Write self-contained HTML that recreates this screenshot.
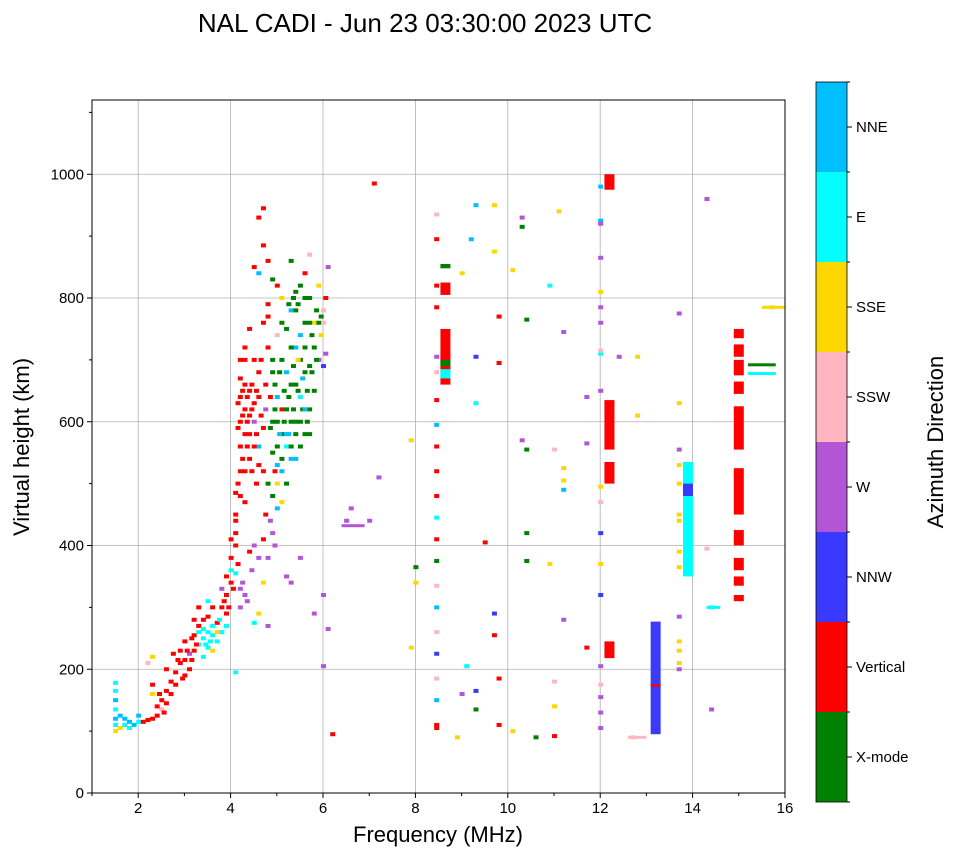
<!DOCTYPE html>
<html><head><meta charset="utf-8"><style>
body{margin:0;background:#fff;font-family:"Liberation Sans","DejaVu Sans",sans-serif}
svg text{font-family:"Liberation Sans","DejaVu Sans",sans-serif}
</style></head><body>
<svg id="c" width="958" height="857" viewBox="0 0 958 857" xmlns="http://www.w3.org/2000/svg">
<text x="425" y="32" font-size="26" text-anchor="middle">NAL CADI - Jun 23 03:30:00 2023 UTC</text>
<g id="grid"></g><g id="marks"></g><g id="axes"></g><g id="cbar"></g>
</svg>
<script>
const NS="http://www.w3.org/2000/svg";
const colorNames=["X-mode","Vertical","NNW","W","SSW","SSE","E","NNE"];
const colorVals=["#008000","#ff0000","#3a3aff","#b256d6","#ffb6c1","#ffd700","#00ffff","#00bfff"];
const xTicks=[2,4,6,8,10,12,14,16];
const yTicks=[0,200,400,600,800,1000];
// bars: freq, h0, h1, color index
const bars=[[8.65,660,750,1],[8.65,805,825,1],[8.65,848,855,0],[8.65,690,700,0],[8.65,670,685,6],[8.65,700,708,1],
[12.2,975,1000,1],[12.2,500,535,1],[12.2,555,635,1],[12.2,218,245,1],
[13.2,95,277,2],[13.2,172,176,1],[13.9,350,535,6],[13.9,480,500,2],
[15,310,320,1],[15,335,350,1],[15,360,380,1],[15,400,425,1],[15,450,525,1],[15,555,625,1],[15,645,665,1],[15,675,700,1],[15,705,725,1],[15,735,750,1]];
// points: freq, height, color index
const pts=[[1.5,100,5],[1.5,110,6],[1.5,120,7],[1.5,135,6],[1.5,150,7],[1.5,165,6],[1.5,178,6],[1.6,105,5],[1.6,125,7],[1.7,110,6],[1.7,120,7],[1.8,115,7],[1.8,105,6],[1.9,110,7],[2.0,115,6],[2.0,125,7],[2.1,115,1],[2.2,118,1],[2.3,120,1],[2.4,125,1],[2.5,135,4],[2.5,150,1],[2.3,175,1],[2.3,160,5],[2.6,145,1],[2.6,165,1],[2.7,160,1],[2.7,180,1],[2.8,195,1],[2.9,210,1],[2.9,230,1],[3.0,190,1],[3.0,215,1],[3.0,245,1],[3.1,200,1],[3.1,225,3],[3.2,230,1],[3.2,255,1],[3.3,240,6],[3.3,270,1],[3.4,220,6],[3.4,250,6],[3.5,235,6],[3.5,260,6],[3.5,285,1],[3.6,230,5],[3.6,255,6],[3.7,245,6],[3.7,275,1],[3.8,300,1],[3.8,260,6],[3.9,320,1],[3.9,290,1],[4.0,340,1],[4.0,360,6],[4.0,380,1],[4.1,400,1],[4.1,195,6],[4.2,330,3],[4.2,300,3],[4.3,320,3],[4.1,420,1],[4.1,450,1],[4.1,485,1],[4.2,520,1],[4.2,560,1],[4.2,600,1],[4.2,640,1],[4.2,670,1],[4.3,700,1],[4.3,620,1],[4.4,580,1],[4.4,650,1],[4.5,700,1],[4.5,600,3],[4.6,640,1],[4.6,560,7],[4.7,590,1],[4.7,760,1],[4.8,790,1],[4.6,930,1],[4.7,945,1],[4.6,840,7],[4.7,885,1],[4.8,860,1],[4.8,720,1],[4.9,680,0],[4.9,550,0],[5.0,600,0],[5.0,640,7],[5.1,700,0],[5.1,520,7],[5.2,560,6],[5.2,750,0],[5.3,660,0],[5.3,780,7],[5.4,600,0],[5.4,720,7],[5.5,820,0],[5.5,700,0],[5.5,640,6],[5.6,760,0],[5.6,580,0],[5.7,690,0],[5.7,800,0],[5.8,650,0],[5.8,760,5],[5.9,700,3],[6.0,780,4],[6.0,690,2],[5.3,860,0],[5.0,460,7],[5.0,500,5],[4.9,420,3],[4.8,380,3],[4.7,340,5],[4.6,290,5],[4.5,275,6],[4.8,270,3],[5.2,350,3],[5.3,340,3],[5.5,380,3],[5.8,290,3],[6.0,320,3],[6.1,265,3],[6.0,205,3],[6.2,95,1],[6.5,440,3],[6.6,460,3],[7.0,440,3],[7.1,985,1],[7.2,510,3],[6.1,850,3],[5.1,620,1],[4.95,520,1],[5.4,540,7],
[4.3,580,1],[4.3,660,1],[4.4,610,1],[4.5,630,1],[4.5,560,1],[4.6,680,1],[4.4,540,1],[4.3,470,1],[4.0,410,1],[3.9,350,1],[3.8,330,3],[3.6,300,1],[3.5,310,6],[3.4,280,1],[3.3,300,1],[4.9,600,0],[5.0,560,0],[5.1,580,0],[5.2,620,0],[5.3,600,0],[5.4,660,0],[5.5,600,0],[5.6,680,0],[5.7,620,0],[5.8,720,0],[5.9,760,0],[5.2,680,7],[5.3,720,0],[5.6,720,0],[5.4,780,0],[5.1,760,0],[5.0,740,4],[4.9,700,0],[5.6,800,0],[5.5,740,7],[5.7,760,0],[5.2,500,0],[5.1,470,5],[5.3,540,7],
[4.15,590,1],[4.15,630,1],[4.25,650,1],[4.25,610,1],[4.35,600,1],[4.35,640,1],[4.45,620,1],[4.45,660,1],[4.55,580,1],[4.55,650,1],[4.65,610,1],[4.65,700,1],[4.75,660,1],[4.75,620,3],[4.85,640,1],[4.85,590,0],[4.95,620,0],[4.95,660,0],[5.05,580,7],[5.05,680,0],[5.15,600,0],[5.15,650,0],[5.25,640,0],[5.25,580,7],[5.35,620,0],[5.35,690,0],[5.45,650,0],[5.45,700,5],[5.55,620,0],[5.55,670,7],[5.65,650,0],[5.65,600,0],[5.75,680,0],[5.75,740,0],[5.85,700,0],[5.85,780,0],[5.95,740,5],[5.95,770,0],[6.0,760,4],[6.05,710,3],
[4.1,440,1],[4.15,500,1],[4.2,480,1],[4.25,540,1],[4.3,520,1],[4.35,560,1],[4.45,520,1],[4.55,500,1],[4.6,530,1],[4.7,520,1],[4.8,500,0],[4.9,480,0],[5.0,530,7],[5.1,540,0],[5.2,580,7],[5.3,560,0],[5.4,580,0],[5.5,560,0],[5.6,620,7],[5.7,580,0],
[3.2,280,1],[3.3,260,6],[3.4,265,6],[3.45,240,6],[3.55,245,6],[3.6,270,6],[3.7,260,5],[3.75,280,6],[3.85,310,1],[3.9,270,6],[3.95,300,1],[4.05,330,1],[4.1,355,6],[4.15,370,1],[4.25,340,3],[4.35,310,3],[4.45,360,3],[4.4,390,1],[4.5,400,3],[4.6,380,3],[4.7,410,1],[4.75,450,1],[4.85,440,3],[4.95,400,3],
[2.8,175,1],[2.85,215,1],[2.95,185,1],[3.05,230,1],[3.15,250,1],[3.15,215,1],[3.25,240,1],[2.4,140,1],[2.45,160,1],[2.55,130,1],[2.2,210,4],[2.3,220,5],[2.6,200,1],[2.75,225,1],
[4.5,850,1],[4.9,830,0],[5.4,810,0],[5.6,840,1],[5.7,870,4],[5.1,800,5],[4.8,770,1],[4.4,750,1],[4.3,720,1],[4.2,700,1],[5.0,820,1],[5.25,790,0],[5.35,800,0],[5.45,790,0],[5.9,820,5],[6.05,800,1],
[7.9,570,5],[7.9,235,5],[8.0,340,5],[8.0,365,0],[8.45,935,4],[8.45,895,1],[8.45,820,1],[8.45,785,1],[8.45,705,3],[8.45,680,4],[8.45,635,1],[8.45,595,7],[8.45,560,1],[8.45,520,1],[8.45,480,1],[8.45,445,6],[8.45,410,1],[8.45,375,0],[8.45,335,4],[8.45,300,7],[8.45,260,4],[8.45,225,2],[8.45,185,4],[8.45,150,7],[8.45,110,1],[8.45,105,1],[8.9,90,5],[9.0,840,5],[9.1,205,6],[9.0,160,3],[9.2,895,7],[9.3,950,7],[9.3,705,2],[9.3,630,6],[9.3,135,0],[9.3,165,2],[9.5,405,1],[9.7,950,5],[9.7,875,5],[9.8,770,1],[9.8,695,1],[9.7,290,2],[9.7,255,1],[9.8,185,1],[9.8,110,1],[10.1,845,5],[10.1,100,5],[10.3,930,3],[10.3,915,0],[10.4,765,0],[10.3,570,3],[10.4,555,0],[10.4,420,0],[10.4,375,0],[10.6,90,0],[10.9,820,6],[10.9,370,5],[11.0,555,4],[11.1,940,5],[11.2,745,3],[11.2,525,5],[11.2,505,5],[11.2,490,7],[11.2,280,3],[11.0,180,4],[11.0,140,5],[11.0,92,1],[11.7,640,3],[11.7,235,1],[11.7,565,3],[12.0,980,7],[12.0,925,7],[12.0,920,3],[12.0,865,3],[12.0,810,5],[12.0,785,3],[12.0,760,3],[12.0,710,6],[12.0,715,4],[12.0,650,3],[12.0,470,4],[12.0,495,5],[12.0,420,2],[12.0,370,5],[12.0,320,2],[12.0,205,3],[12.0,175,4],[12.0,155,3],[12.0,130,3],[12.0,105,3],[12.4,705,3],[12.7,90,4],[12.8,705,5],[12.8,610,5],[13.7,775,3],[13.7,630,5],[13.7,555,3],[13.7,530,5],[13.7,500,5],[13.7,450,5],[13.7,440,5],[13.7,390,5],[13.7,365,5],[13.7,285,3],[13.7,245,5],[13.7,230,5],[13.7,210,5],[13.7,200,3],[14.3,960,3],[14.4,300,6],[14.4,135,3],[14.3,395,4],[15.7,785,5]];
// horizontal segments: f0, f1, h, color
const hsegs=[[15.2,15.8,678,6],[15.2,15.8,692,0],[15.5,16,785,5],[12.6,13.0,90,4],[6.4,6.9,432,3],[14.3,14.6,300,6]];

const X0=92,X1=785,Y0=793,Y1=100;
const x=f=>X0+(f-1)*(X1-X0)/15;
const y=h=>Y0-h*(Y0-Y1)/1120;
const svg=document.getElementById('c');
function mk(tag,attrs,parent){const e=document.createElementNS(NS,tag);for(const k in attrs)e.setAttribute(k,attrs[k]);parent.appendChild(e);return e;}
const G=document.getElementById('grid'),M=document.getElementById('marks'),A=document.getElementById('axes'),C=document.getElementById('cbar');
xTicks.forEach(t=>{if(t<16){const l=mk('line',{x1:x(t),x2:x(t),y1:Y1,y2:Y0,stroke:'#b0b0b0','stroke-width':0.8},G);}});
yTicks.forEach(t=>{if(t>0){const l=mk('line',{x1:X0,x2:X1,y1:y(t),y2:y(t),stroke:'#b0b0b0','stroke-width':0.8},G);}});
bars.forEach(b=>{const r=mk('rect',{x:x(b[0])-5,y:y(b[2]),width:10,height:y(b[1])-y(b[2]),fill:colorVals[b[3]]},M);

});
pts.forEach(p=>{const r=mk('rect',{x:x(p[0])-2,y:y(p[1])-2,width:5,height:4,fill:colorVals[p[2]]},M);

});
hsegs.forEach(s=>{const r=mk('rect',{x:x(s[0]),y:y(s[2])-1.5,width:x(s[1])-x(s[0]),height:3,fill:colorVals[s[3]]},M);

});
const fr=mk('rect',{x:X0,y:Y1,width:X1-X0,height:Y0-Y1,fill:'none',stroke:'#000','stroke-width':1},A);

xTicks.forEach(t=>{mk('line',{x1:x(t),x2:x(t),y1:Y0,y2:Y0+5,stroke:'#000'},A);
const tx=mk('text',{x:x(t),y:Y0+20,'font-size':15,'text-anchor':'middle'},A);tx.textContent=t;
});
for(let t=1;t<16;t+=2)mk('line',{x1:x(t),x2:x(t),y1:Y0,y2:Y0+3,stroke:'#000'},A);
yTicks.forEach(t=>{mk('line',{x1:X0-5,x2:X0,y1:y(t),y2:y(t),stroke:'#000'},A);
const tx=mk('text',{x:X0-8,y:y(t)+5,'font-size':15,'text-anchor':'end'},A);tx.textContent=t;
});
for(let t=100;t<1120;t+=200)mk('line',{x1:X0-3,x2:X0,y1:y(t),y2:y(t),stroke:'#000'},A);
const xl=mk('text',{x:438,y:842,'font-size':22,'text-anchor':'middle'},A);xl.textContent='Frequency (MHz)';

const yl=mk('text',{x:0,y:0,'font-size':22,'text-anchor':'middle',transform:'translate(29,447) rotate(-90)'},A);yl.textContent='Virtual height (km)';

const CB0=82,CB1=802,cx=816,cw=31,bh=(CB1-CB0)/8;
colorNames.forEach((n,i)=>{const top=CB1-(i+1)*bh;
const r=mk('rect',{x:cx,y:top,width:cw,height:bh,fill:colorVals[i]},C);

mk('line',{x1:cx+cw,x2:cx+cw+5,y1:top+bh/2,y2:top+bh/2,stroke:'#000'},C);
const t=mk('text',{x:cx+cw+9,y:top+bh/2+5,'font-size':15},C);t.textContent=n;
});
for(let i=0;i<=8;i++){mk('line',{x1:cx+cw,x2:cx+cw+3,y1:CB0+i*bh,y2:CB0+i*bh,stroke:'#000'},C);}
mk('rect',{x:cx,y:CB0,width:cw,height:CB1-CB0,fill:'none',stroke:'#000','stroke-width':0.8},C);
const ct=mk('text',{x:0,y:0,'font-size':22,'text-anchor':'middle',transform:'translate(943,442) rotate(-90)'},C);ct.textContent='Azimuth Direction';

</script>
</body></html>
